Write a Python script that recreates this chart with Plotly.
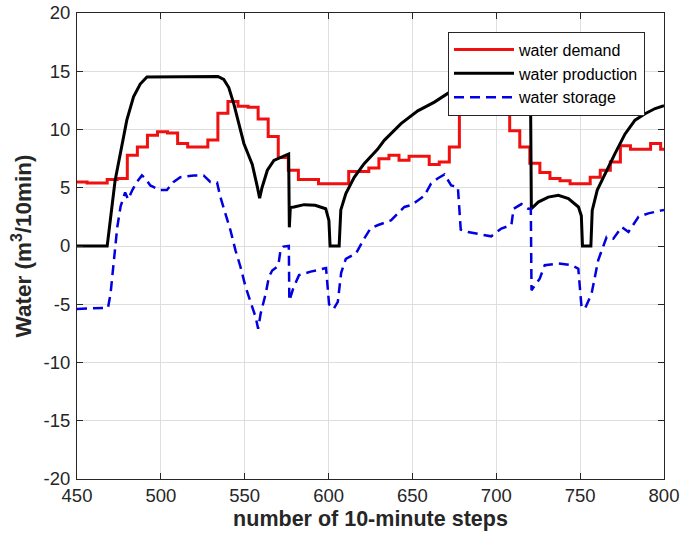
import plotly.graph_objects as go

# ---- data ----
# hourly water demand (6 ten-minute steps per value), starting at step 450
demand_x = [450, 456, 462, 468, 474, 480, 486, 492, 498, 504, 510, 516, 522, 528,
            534, 540, 546, 552, 558, 564, 570, 576, 582, 588, 594, 600, 606, 612,
            618, 624, 630, 636, 642, 648, 654, 660, 666, 672, 678, 684, 690, 696,
            702, 708, 714, 720, 726, 732, 738, 744, 750, 756, 762, 768, 774, 780,
            786, 792, 798, 800]
demand_y = [5.5, 5.4, 5.4, 5.7, 5.8, 7.8, 8.5, 9.5, 9.8, 9.7, 8.8, 8.5, 8.5, 9.1,
            11.4, 12.4, 12.0, 11.9, 10.9, 9.4, 7.6, 6.5, 5.7, 5.7, 5.35, 5.35, 5.35, 6.4,
            6.4, 6.7, 7.5, 7.8, 7.35, 7.7, 7.7, 7.0, 7.2, 8.5, 13.5, 14.5, 15.0, 14.5,
            13.0, 9.9, 8.5, 7.1, 6.3, 5.8, 5.6, 5.35, 5.35, 5.9, 6.5, 7.2, 8.6, 8.3,
            8.3, 8.8, 8.3, 8.3]

production_x = [450, 468, 472.7, 476.7, 479.7, 483.7, 487.7, 491.7, 534, 537.5, 540.5,
                543.5, 546.5, 549.5, 552, 554.5, 557.5, 558.9, 560.3, 563.5, 567.4,
                572.4, 576.2, 576.6, 577.2, 579.4, 585.4, 592, 598.3, 600.2, 600.9,
                606.3, 607.3, 610.3, 615.3, 621.2, 625.2, 629.2, 633.2, 643.2, 653.2,
                663.1, 671.1, 680, 690, 700, 710, 716, 719, 720.5, 720.9, 725, 731,
                737, 743, 749, 750.7, 751.4, 756.4, 757.2, 760.2, 764.8, 770.7, 776.7,
                782.7, 788.7, 794.7, 800]
production_y = [0, 0, 5.6, 8.5, 10.8, 12.8, 13.9, 14.5, 14.55, 14.3, 13.6,
                12.2, 10.5, 8.8, 7.9, 7.0, 5.1, 4.1, 5.0, 6.5, 7.35,
                7.7, 7.9, 1.6, 3.3, 3.35, 3.55, 3.5, 3.2, 2.2, 0,
                0, 3.1, 4.5, 5.9, 7.07, 7.7, 8.3, 9.07, 10.5, 11.6,
                12.35, 13.1, 13.8, 14.3, 14.5, 14.5, 13.6, 12.2, 11.3, 3.2, 3.77, 4.2,
                4.35, 4.06, 3.35, 2.6, 0, 0, 3.06, 4.8, 6.2, 7.9, 9.6,
                10.8, 11.35, 11.8, 12.05]

storage_x = [450, 468.5, 470, 472, 474, 476, 478.7, 480.5, 483, 485.7, 488.7, 490.7,
             493.7, 499.6, 503.6, 507.6, 511.6, 519.6, 525.5, 529.5, 533.5, 535.5,
             538.5, 541.5, 544.5, 547.5, 550.5, 553.5, 556.5, 558, 559.5, 562.5,
             564.4, 566.4, 570, 571.4, 573, 576.3, 576.6, 579, 582.4, 589.3, 596.3,
             598.5, 600.3, 603, 605.5, 607.5, 610.3, 613, 616.3, 621.2, 625, 629.2,
             633, 637.2, 645.2, 649, 653.2, 657, 661.1, 665, 669.1, 673.1, 677.1,
             678.8, 683.1, 693, 697, 703, 709, 710.3, 715, 719, 720.6, 721, 725.9,
             728.9, 736.9, 744.9, 748.9, 750.8, 752.8, 756.8, 760.8, 765.8, 769.8,
             774.8, 778.8, 784.8, 790.7, 798.7, 800]
storage_y = [-5.4, -5.3, -4.1, -1.2, 1.6, 3.4, 4.6, 4.0, 4.8, 5.5, 6.06, 5.8,
             5.2, 4.8, 4.8, 5.5, 5.9, 6.06, 6.06, 5.5, 5.45, 4.2,
             2.8, 1.35, -0.37, -1.8, -3.5, -4.9, -6.1, -7.1, -5.8, -4.1,
             -2.66, -2.1, -1.7, -0.3, -0.05, 0, -4.7, -3.6, -2.5, -2.2, -1.95,
             -1.9, -5.0, -5.4, -4.8, -2.3, -1.1, -0.9, -0.65, 0.63, 1.5, 1.78,
             2.0, 2.2, 3.35, 3.5, 3.9, 4.3, 5.35, 5.8, 6.15, 5.2, 5.06,
             1.4, 1.2, 0.92, 0.83, 1.5, 1.8, 3.2, 3.6, 3.2, 3.2, -3.8, -2.8,
             -1.65, -1.5, -1.65, -1.95, -5.2, -5.4, -4.1, -1.2, 0.77, 0.63,
             1.63, 1.2, 2.5, 2.8, 3.06, 3.1]

x_ticks = [450, 500, 550, 600, 650, 700, 750, 800]
y_ticks = [-20, -15, -10, -5, 0, 5, 10, 15, 20]

FONT = "Liberation Sans, Arial, Helvetica, sans-serif"
AXIS_COLOR = "#262626"

fig = go.Figure()
fig.add_trace(go.Scatter(x=demand_x, y=demand_y, mode="lines", name="water demand",
                         line=dict(color="#f01010", width=3, shape="hv")))
fig.add_trace(go.Scatter(x=production_x, y=production_y, mode="lines", name="water production",
                         line=dict(color="#000000", width=3)))
fig.add_trace(go.Scatter(x=storage_x, y=storage_y, mode="lines", name="water storage",
                         line=dict(color="#0000e0", width=2.5, dash="10px,6px")))

axis_common = dict(
    showline=True, linecolor=AXIS_COLOR, linewidth=1, mirror="allticks",
    ticks="inside", ticklen=6, tickcolor=AXIS_COLOR, tickwidth=1,
    showgrid=True, gridcolor="#dedede", gridwidth=1, zeroline=False,
    tickfont=dict(family=FONT, size=18.5, color=AXIS_COLOR),
)

fig.update_xaxes(range=[450, 800], tickvals=x_ticks, ticktext=[str(v) for v in x_ticks],
                 title=dict(text="<b>number of 10-minute steps</b>",
                            font=dict(family=FONT, size=21.5, color="#262626"), standoff=5),
                 **axis_common)
fig.update_yaxes(range=[-20, 20], tickvals=y_ticks, ticktext=[str(v) for v in y_ticks],
                 ticklabelstandoff=2,
                 title=dict(text="<b>Water (m<sup>3</sup>/10min)</b>",
                            font=dict(family=FONT, size=22.5, color="#262626"), standoff=5),
                 **axis_common)

fig.update_layout(
    width=681, height=540,
    margin=dict(l=77, r=17, t=13, b=61, autoexpand=False),
    paper_bgcolor="white", plot_bgcolor="white",
    showlegend=True,
    legend=dict(x=0.9676, y=0.960, xanchor="right", yanchor="top",
                bgcolor="white", bordercolor=AXIS_COLOR, borderwidth=1,
                font=dict(family=FONT, size=16, color="#000000"),
                itemwidth=60, tracegroupgap=0),
)

fig.write_html("out.html")
